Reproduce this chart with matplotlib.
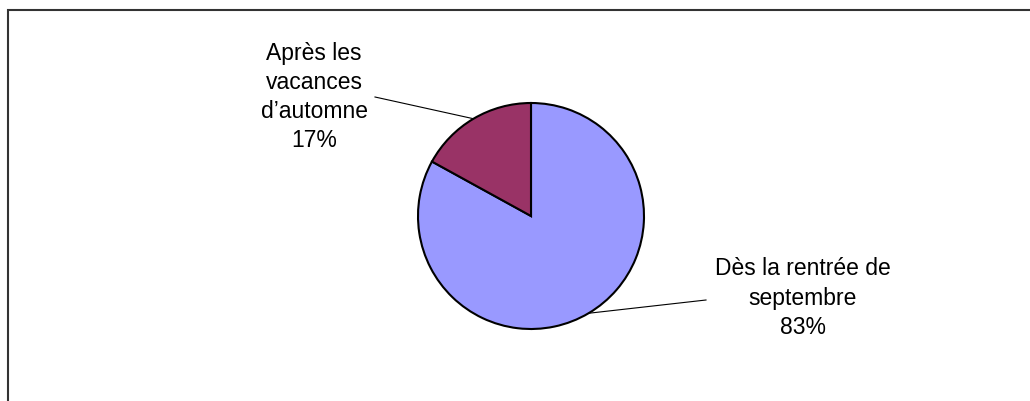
import numpy as np
import matplotlib.pyplot as plt
from matplotlib.patches import Rectangle

# Data
labels = ["Dès la rentrée de\nseptembre", "Après les\nvacances\nd\u2019automne"]
values = [83, 17]
colors = ["#9999FF", "#993366"]

W, H = 1030, 401
fig = plt.figure(figsize=(W / 100, H / 100), dpi=100)
ax = fig.add_axes([0, 0, 1, 1])

cx, cy, r = 531, H - 216, 113
wedges, _ = ax.pie(values, colors=colors, startangle=90, counterclock=False,
                   center=(cx, cy), radius=r,
                   wedgeprops=dict(edgecolor="black", linewidth=1.5))

ax.set_xlim(0, W)
ax.set_ylim(0, H)
ax.set_aspect("equal", adjustable="box")
ax.axis("off")

# outer frame (chart area border)
ax.add_patch(Rectangle((8, -20), W, H - 10 + 20, fill=False,
                       edgecolor="#333333", linewidth=1.5))

# labels with leader lines to the wedge mid-points
label_pos = [(803, H - 298), (314, H - 97)]
line_start = [(706, H - 300), (375, H - 97)]
total = sum(values)
for w, lab, v, (tx, ty), (lx, ly) in zip(wedges, labels, values, label_pos, line_start):
    mid = np.deg2rad((w.theta1 + w.theta2) / 2)
    ex, ey = cx + r * np.cos(mid), cy + r * np.sin(mid)
    ax.plot([lx, ex], [ly, ey], color="black", linewidth=0.8)
    pct = round(100 * v / total)
    ax.text(tx, ty, f"{lab}\n{pct}%", ha="center", va="center",
            fontsize=16.5, family="Liberation Sans", linespacing=1.35)

fig.savefig("out.png", dpi=100)
